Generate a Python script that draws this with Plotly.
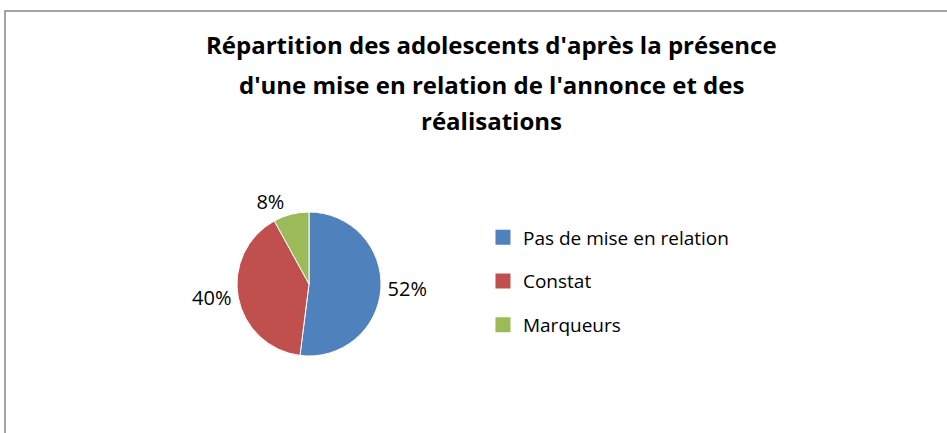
"""Pie chart: répartition des adolescents (mise en relation annonce / réalisations)."""

import plotly.graph_objects as go

TITLE_LINES = [
    "Répartition des adolescents d'après la présence",
    "d'une mise en relation de l'annonce et des",
    "réalisations",
]
CATEGORIES = ["Pas de mise en relation", "Constat", "Marqueurs"]
VALUES = [52, 40, 8]
COLORS = ["#4F81BD", "#C0504D", "#9BBB59"]

FONT = "Open Sans"
W, H = 947, 433

# pie placement in pixels (centre and radius), converted to paper fractions
CX, CY, R = 309, 284, 72
# title line centres (pixels from top)
TITLE_X, TITLE_YS = 491, [45, 84, 121]

fig = go.Figure()
fig.add_trace(
    go.Pie(
        labels=CATEGORIES,
        values=VALUES,
        sort=False,
        direction="clockwise",
        rotation=0,
        marker=dict(colors=COLORS, line=dict(color="white", width=1)),
        texttemplate="%{percent:.0%}",
        textposition="outside",
        textfont=dict(family=FONT, size=20, color="#000000"),
        showlegend=False,
        hoverinfo="label+percent",
        domain=dict(
            x=[(CX - R) / W, (CX + R) / W],
            y=[(H - CY - R) / H, (H - CY + R) / H],
        ),
    )
)

# legend entries (one group each so the gap between them can be set)
for name, color in zip(CATEGORIES, COLORS):
    fig.add_trace(
        go.Scatter(
            x=[None],
            y=[None],
            mode="markers",
            name=name,
            legendgroup=name,
            marker=dict(symbol="square", size=15, color=color),
        )
    )

for line, ty in zip(TITLE_LINES, TITLE_YS):
    fig.add_annotation(
        text=f"<b>{line}</b>",
        xref="paper",
        yref="paper",
        x=TITLE_X / W,
        y=1 - ty / H,
        xanchor="center",
        yanchor="middle",
        showarrow=False,
        font=dict(family=FONT, size=24, color="#000000"),
    )

fig.update_layout(
    width=W,
    height=H,
    margin=dict(l=0, r=0, t=0, b=0),
    paper_bgcolor="white",
    plot_bgcolor="white",
    xaxis=dict(visible=False),
    yaxis=dict(visible=False),
    legend=dict(
        x=0.51,
        xanchor="left",
        y=0.35,
        yanchor="middle",
        font=dict(family=FONT, size=19, color="#000000"),
        tracegroupgap=16,
        itemwidth=30,
        bgcolor="rgba(0,0,0,0)",
    ),
    shapes=[
        dict(
            type="rect",
            xref="paper",
            yref="paper",
            x0=5 / W,
            x1=1.05,
            y0=-0.1,
            y1=(H - 11) / H,
            line=dict(color="#878787", width=1.5),
        )
    ],
)

# drop the browser's default page margin so the figure sits at the window corner
fig.write_html(
    "out.html",
    config={"displayModeBar": False},
    post_script="document.body.style.margin = '0';",
)
